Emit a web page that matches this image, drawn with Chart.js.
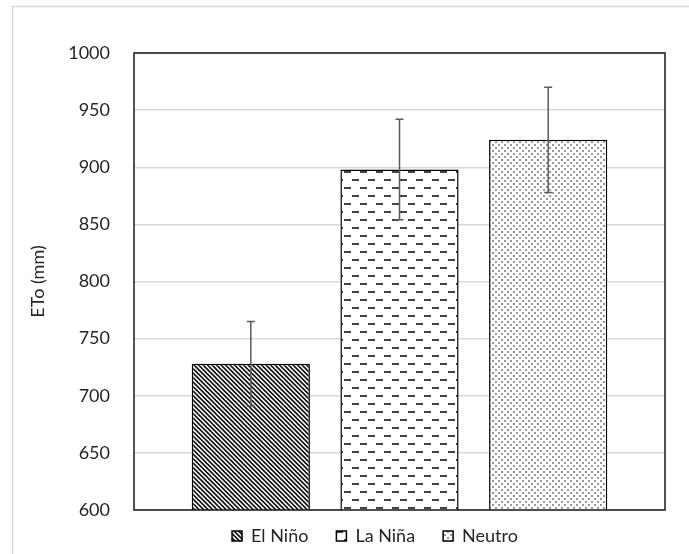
<!DOCTYPE html>
<html>
<head>
<meta charset="utf-8">
<script src="https://cdn.jsdelivr.net/npm/chart.js@4.4.1/dist/chart.umd.min.js"></script>
<style>
  html, body { margin: 0; padding: 0; background: #fff; overflow: hidden; }
</style>
</head>
<body>
<canvas id="chart" width="689" height="554"></canvas>
<script>
// series (one bar each, single category)
const seriesNames = ['El Niño', 'La Niña', 'Neutro'];
const etoMeans = [728, 898, 924];
const etoErrors = [37, 44, 46];
// y axis
const yMin = 600;
const yMax = 1000;
const yStep = 50;

// fill patterns, roughly like the Excel ones
const makeTile = (w, h, draw) => {
    const c = document.createElement('canvas');
    c.width = w; c.height = h;
    const g = c.getContext('2d');
    g.fillStyle = '#fff';
    g.fillRect(0, 0, w, h);
    draw(g, w, h);
    return document.createElement('canvas').getContext('2d').createPattern(c, 'repeat');
};

const diagFill = makeTile(9, 9, (g, s) => {
    g.strokeStyle = '#111';
    g.lineWidth = 1.6;
    for (let k = -2 * s; k <= 2 * s; k += 4.5) {
        g.beginPath();
        g.moveTo(k - s, -s);
        g.lineTo(k + 2 * s, 2 * s);
        g.stroke();
    }
});

const dashFill = makeTile(16, 16, (g) => {
    g.fillStyle = '#444';
    g.fillRect(0, 3, 7, 2);
    g.fillRect(8, 11, 7, 2);
});

const dotFill = makeTile(6, 6, (g) => {
    g.fillStyle = '#999';
    g.fillRect(0, 0, 2, 2);
    g.fillRect(3, 3, 2, 2);
});

const fills = [diagFill, dashFill, dotFill];

Chart.defaults.font.family = 'Lato';
Chart.defaults.font.size = 18;
Chart.defaults.color = '#262626';

const chartDecor = {
    id: 'chartDecor',
    beforeLayout(chart) {
        const lg = chart.legend;
        if (lg && !lg._patched) {
            const fit = lg.fit;
            lg.fit = function () {
                fit.call(this);
                this.height = 44;
            };
            lg._patched = true;
        }
    },
    afterLayout(chart) {
        const lg = chart.legend;
        lg.left = 12;
        lg.right = 738;
        lg.width = lg.right - lg.left;
        lg.top = 499;
        lg.bottom = lg.top + 44;
    },
    beforeDraw(chart) {
        const ctx = chart.ctx;
        ctx.save();
        ctx.strokeStyle = '#d9d9d9';
        ctx.lineWidth = 1.5;
        ctx.strokeRect(12.5, 6.5, 900, 900);
        ctx.restore();
    },
    afterDatasetsDraw(chart) {
        const ctx = chart.ctx;
        const y = chart.scales.y;
        const area = chart.chartArea;
        ctx.save();
        // error bars
        ctx.strokeStyle = '#5a5a5a';
        ctx.lineWidth = 1.5;
        etoMeans.forEach((m, i) => {
            const bar = chart.getDatasetMeta(i).data[0];
            const yTop = y.getPixelForValue(m + etoErrors[i]);
            const yBot = y.getPixelForValue(m - etoErrors[i]);
            ctx.beginPath();
            ctx.moveTo(bar.x, yTop);
            ctx.lineTo(bar.x, yBot);
            ctx.moveTo(bar.x - 4, yTop);
            ctx.lineTo(bar.x + 4, yTop);
            ctx.moveTo(bar.x - 4, yBot);
            ctx.lineTo(bar.x + 4, yBot);
            ctx.stroke();
        });
        // plot area border
        ctx.strokeStyle = '#1a1a1a';
        ctx.lineWidth = 1.5;
        ctx.strokeRect(area.left, area.top, area.right - area.left, area.bottom - area.top);
        ctx.restore();
    }
};

new Chart(document.getElementById('chart'), {
    type: 'bar',
    data: {
        labels: [''],
        datasets: seriesNames.map((name, i) => ({
            label: name,
            data: [etoMeans[i]],
            backgroundColor: fills[i],
            borderColor: '#000',
            borderWidth: 1.5,
            borderSkipped: false,
            categoryPercentage: 0.84,
            barPercentage: 0.795
        }))
    },
    options: {
        responsive: false,
        animation: false,
        layout: { padding: { top: 53, right: 24, left: 12, bottom: 0 } },
        scales: {
            x: { display: false },
            y: {
                min: yMin,
                max: yMax,
                afterFit: (s) => { s.width = 122; },
                ticks: { stepSize: yStep, padding: 24, color: '#262626', callback: (v) => String(v) },
                grid: { color: '#d9d9d9', lineWidth: 1.5, drawTicks: false },
                border: { display: false },
                title: { display: true, text: 'ETo (mm)', padding: { top: 15, bottom: 0 }, color: '#262626' }
            }
        },
        plugins: {
            legend: {
                position: 'bottom',
                labels: { boxWidth: 10, boxHeight: 10, padding: 28, color: '#262626' }
            },
            tooltip: { enabled: false }
        }
    },
    plugins: [chartDecor]
});
</script>
</body>
</html>
